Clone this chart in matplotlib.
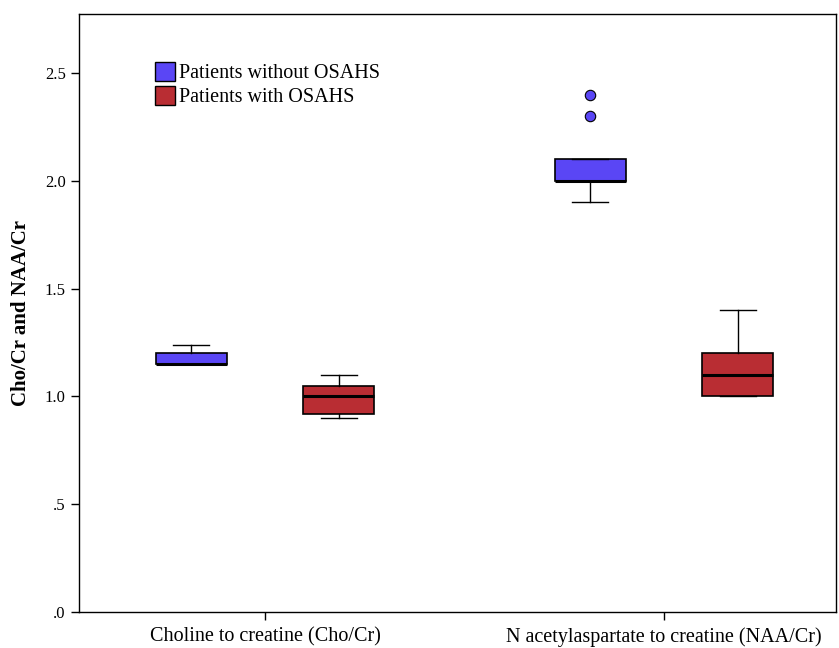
import matplotlib
matplotlib.use("Agg")
import matplotlib.pyplot as plt
from matplotlib.patches import Patch

plt.rcParams['font.family'] = ['Liberation Serif', 'DejaVu Serif']

categories = ["Choline to creatine (Cho/Cr)", "N acetylaspartate to creatine (NAA/Cr)"]
groups = ["Patients without OSAHS", "Patients with OSAHS"]
colors = ["#5a46f5", "#b92d33"]

# box summaries per category: [without, with]
q1 = [[1.15, 0.92], [2.00, 1.00]]
med = [[1.15, 1.00], [2.00, 1.10]]
q3 = [[1.20, 1.05], [2.10, 1.20]]
whislo = [[1.15, 0.90], [1.90, 1.00]]
whishi = [[1.24, 1.10], [2.10, 1.40]]
outliers = [[[], []], [[2.30, 2.40], []]]

fig = plt.figure(figsize=(8.39, 6.48), dpi=100)
ax = fig.add_axes([0.0942, 0.0556, 0.9022, 0.9228])

offset = 0.185
width = 0.178
for ci in range(len(categories)):
    for gi in range(len(groups)):
        stats = [{
            "med": med[ci][gi], "q1": q1[ci][gi], "q3": q3[ci][gi],
            "whislo": whislo[ci][gi], "whishi": whishi[ci][gi],
            "fliers": outliers[ci][gi],
        }]
        pos = ci + (gi - 0.5) * 2 * offset
        ax.bxp(stats, positions=[pos], widths=width, patch_artist=True,
               manage_ticks=False,
               boxprops=dict(facecolor=colors[gi], edgecolor="black", linewidth=1.2),
               medianprops=dict(color="black", linewidth=2.2),
               whiskerprops=dict(color="black", linewidth=1.0),
               capprops=dict(color="black", linewidth=1.0),
               capwidths=width * 0.5,
               flierprops=dict(marker="o", markerfacecolor=colors[gi],
                               markeredgecolor="black", markersize=7.5,
                               markeredgewidth=0.8))

ax.set_xlim(-0.466, 1.431)
ax.set_ylim(0, 2.774)
ax.set_xticks([0, 1])
ax.set_xticklabels(categories, fontsize=14.5)
ax.set_yticks([0, 0.5, 1.0, 1.5, 2.0, 2.5])
ax.set_yticklabels([".0", ".5", "1.0", "1.5", "2.0", "2.5"], fontsize=12)
ax.tick_params(axis="both", length=6, width=1.0, direction="out")
ax.tick_params(axis="x", pad=5)
ax.set_ylabel("Cho/Cr and NAA/Cr", fontsize=15, fontweight="bold", labelpad=10)
for s in ax.spines.values():
    s.set_linewidth(1.0)

handles = [Patch(facecolor=c, edgecolor="black", linewidth=1.0) for c in colors]
ax.legend(handles, groups, loc="upper left", bbox_to_anchor=(0.100, 0.92),
          frameon=False, fontsize=14.5, handlelength=1.0, handleheight=1.05,
          handletextpad=0.2, labelspacing=0.15, borderaxespad=0, borderpad=0)

fig.savefig("out.png", dpi=100)
